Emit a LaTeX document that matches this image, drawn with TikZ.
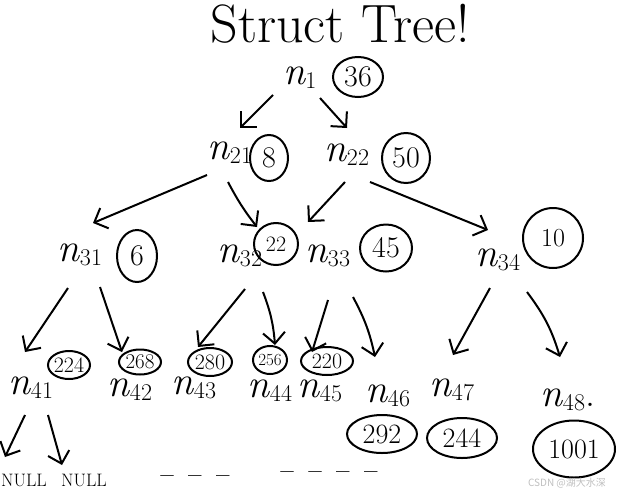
\documentclass[tikz,border=0pt]{standalone}
\usepackage{fontspec}
\newfontfamily\cjkwm{Noto Sans CJK SC}
\usetikzlibrary{shapes.geometric,arrows.meta}
\newcommand\nlab[1]{{\itshape n}\raisebox{-4pt}{\fontsize{24}{24}\selectfont #1}}
\tikzset{
  lab/.style={inner sep=0pt, font=\fontsize{40}{40}\selectfont},
  val/.style={ellipse, draw, line width=2pt, inner sep=-8pt, font=\fontsize{30}{30}\selectfont},
  arr/.style={line width=2pt, -{Straight Barb[length=11pt,width=22pt,line width=2pt]}},
  nulltxt/.style={inner sep=0pt, font=\fontsize{18}{18}\selectfont},
  dots/.style={inner sep=0pt, font=\bfseries\fontsize{24}{24}\selectfont},
}
\begin{document}
\begin{tikzpicture}[x=1pt,y=-1pt]
\useasboundingbox (0,0) rectangle (617,493);
% title
\node[inner sep=0pt, font=\fontsize{54}{54}\selectfont] (title) at (340,24) {Struct Tree!};
% level 1
\node[lab] (n1) at (300,78) {\nlab{1}};
\node[val, minimum width=50pt, minimum height=40pt] (v1) at (358,77) {36};
% level 2
\node[lab] (n21) at (230,153) {\nlab{21}};
\node[val, minimum width=38pt, minimum height=46pt] (v21) at (269,158) {8};
\node[lab] (n22) at (347,155) {\nlab{22}};
\node[val, minimum width=48pt, minimum height=50pt] (v22) at (406,158) {50};
% level 3
\node[lab] (n31) at (80,255) {\nlab{31}};
\node[val, minimum width=40pt, minimum height=52pt] (v31) at (137,256) {6};
\node[lab] (n32) at (240,256) {\nlab{32}};
\node[val, minimum width=44pt, minimum height=42pt, font=\fontsize{22}{22}\selectfont] (v32) at (276,244) {22};
\node[lab] (n33) at (328,256) {\nlab{33}};
\node[val, minimum width=52pt, minimum height=47pt] (v33) at (386,248) {45};
\node[lab] (n34) at (498,260) {\nlab{34}};
\node[val, minimum width=60pt, minimum height=60pt, font=\fontsize{26}{26}\selectfont] (v34) at (553,238) {10};
% level 4
\node[lab] (n41) at (31,388) {\nlab{41}};
\node[val, minimum width=42pt, minimum height=28pt, font=\fontsize{22}{22}\selectfont] (v41) at (69,365) {224};
\node[lab] (n42) at (130,390) {\nlab{42}};
\node[val, minimum width=42pt, minimum height=25pt, font=\fontsize{21}{21}\selectfont] (v42) at (140,362) {268};
\node[lab] (n43) at (194,388) {\nlab{43}};
\node[val, minimum width=44pt, minimum height=28pt, font=\fontsize{22}{22}\selectfont] (v43) at (210,362) {280};
\node[lab] (n44) at (270,391) {\nlab{44}};
\node[val, minimum width=34pt, minimum height=28pt, font=\fontsize{17}{17}\selectfont] (v44) at (270,360) {256};
\node[lab] (n45) at (320,391) {\nlab{45}};
\node[val, minimum width=52pt, minimum height=28pt, font=\fontsize{22}{22}\selectfont] (v45) at (327,361) {220};
\node[lab] (n46) at (388,396) {\nlab{46}};
\node[val, minimum width=70pt, minimum height=38pt, font=\fontsize{28}{28}\selectfont] (v46) at (382,434) {292};
\node[lab] (n47) at (452,390) {\nlab{47}};
\node[val, minimum width=70pt, minimum height=40pt, font=\fontsize{28}{28}\selectfont] (v47) at (462,438) {244};
\node[lab] (n48) at (568,400) {\nlab{48}.};
\node[val, minimum width=82pt, minimum height=57pt, font=\fontsize{28}{28}\selectfont] (v48) at (574,449) {1001};
% NULL leaves and dashes
\node[nulltxt] (null1) at (24,480) {NULL};
\node[nulltxt] (null2) at (84,480) {NULL};
\node[dots] (dotsA) at (195,479) {--\hspace{0.6em}--\hspace{0.6em}--};
\node[dots] (dotsB) at (329,475) {--\hspace{0.6em}--\hspace{0.6em}--\hspace{0.6em}--};
% watermark
\node[inner sep=0pt, text=black!25, font=\cjkwm\fontsize{10}{10}\selectfont] (wm) at (567,483) {CSDN @湖大水深};
% edges
\draw[arr] ([shift={(-27,17)}]n1.center) -- ([shift={(10,-25)}]n21.center);
\draw[arr] ([shift={(20,20)}]n1.center) -- ([shift={(0,-27)}]n22.center);
\draw[arr] ([shift={(-23,22)}]n21.center) -- ([shift={(13,-32)}]n31.center);
\draw[arr] ([shift={(-2,29)}]n21.center) to[bend right=5] ([shift={(17,-29)}]n32.center);
\draw[arr] ([shift={(-2,27)}]n22.center) -- ([shift={(-20,-34)}]n33.center);
\draw[arr] ([shift={(23,27)}]n22.center) -- ([shift={(-10,-30)}]n34.center);
\draw[arr] ([shift={(-12,33)}]n31.center) -- ([shift={(-6,-36)}]n41.center);
\draw[arr] ([shift={(20,32)}]n31.center) -- ([shift={(-8,-38)}]n42.center);
\draw[arr] ([shift={(5,33)}]n32.center) -- ([shift={(4,-41)}]n43.center);
\draw[arr] ([shift={(23,36)}]n32.center) to[bend left=8] ([shift={(5,-46)}]n44.center);
\draw[arr] ([shift={(0,44)}]n33.center) -- ([shift={(-8,-39)}]n45.center);
\draw[arr] ([shift={(25,41)}]n33.center) to[bend left=8] ([shift={(-13,-39)}]n46.center);
\draw[arr] ([shift={(-8,28)}]n34.center) -- ([shift={(1,-35)}]n47.center);
\draw[arr] ([shift={(29,32)}]n34.center) to[bend left=10] ([shift={(-8,-43)}]n48.center);
\draw[arr] ([shift={(-6,27)}]n41.center) -- ([shift={(-19,-23)}]null1.center);
\draw[arr] ([shift={(17,27)}]n41.center) -- ([shift={(-22,-15)}]null2.center);
\end{tikzpicture}
\end{document}
